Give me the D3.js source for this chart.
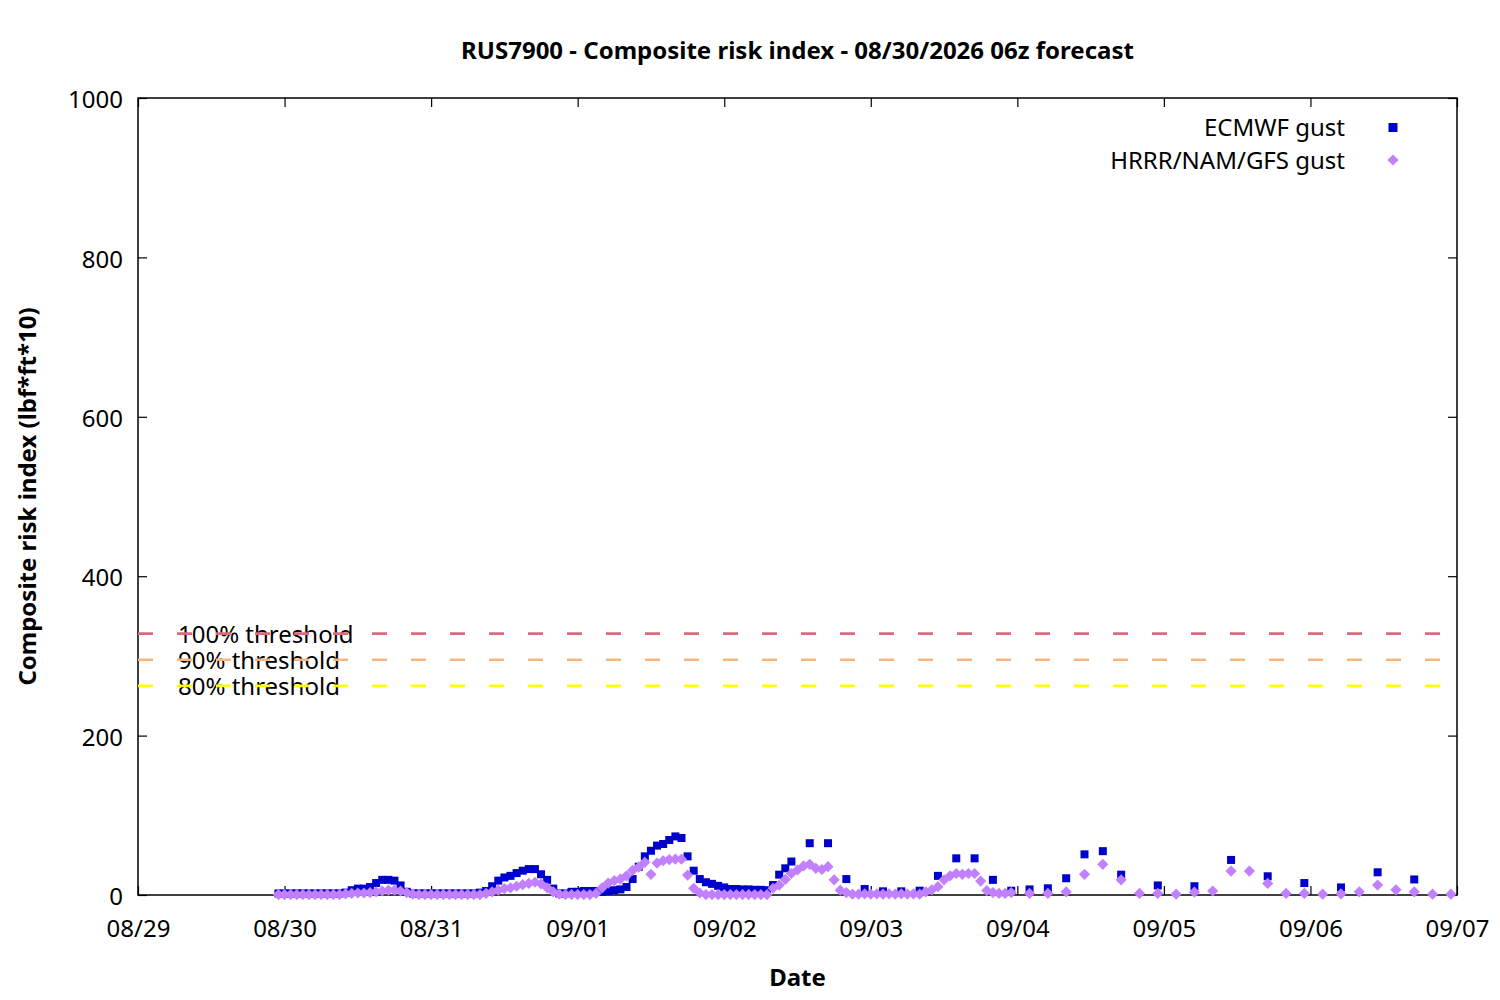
<!DOCTYPE html>
<html>
<head>
<meta charset="utf-8">
<script src="https://cdn.jsdelivr.net/npm/d3@7"></script>
<style>
  body { margin: 0; background: #fff; }
  text { font-family: "Noto Sans", sans-serif; fill: #000; }
</style>
</head>
<body>
<div id="chart"></div>
<script>
// forecast init 08/30 06z, shown in local time (UTC-7) -> first step 08/29 23:00
const initLocal = Date.UTC(2026, 7, 29, 23);

// output schedule of each source (lead hours)
const ecmwfLead = [...d3.range(0, 85), ...d3.range(87, 139, 3), ...d3.range(144, 187, 6)];
const hrrrLead = [...d3.range(0, 121), ...d3.range(123, 193, 3)];

// ECMWF gust composite index
const ecmwfValues = [
  2, 2, 2, 2, 2, 2, 2, 2, 2, 2, 2,
  3, 6, 8, 8, 10, 15, 19, 19, 18, 12, 4,
  2, 2, 2, 2, 2, 2, 2, 2, 2, 2, 2, 3,
  5, 11, 18, 22, 24, 27.5, 30.5, 32.5, 32.5, 26, 19, 8, 2, 2, 4, 4,
  5, 5, 5, 4, 5, 6, 7, 10, 20, 35.5, 48.5, 55.5, 62, 64, 69, 73.5, 71.5,
  48.5, 30.5, 20, 16, 14, 11.5, 9.5, 7.5, 7.5, 7, 7, 6.5, 6.5, 6,
  12.5, 25.5, 33.5, 42,
  65, 65, 20, 7.5, 4.6, 4.6, 5.4, 24, 46, 46, 19, 5.4, 7, 8.4, 21, 51, 55, 25.5,
  12, 11, 44, 23.5, 15, 9.5, 28.5, 19.5
];

// HRRR/NAM/GFS gust composite index
const hrrrValues = [
  0.5, 0.5, 0.5, 0.5, 0.5, 0.5, 0.5, 0.5, 0.5, 0.5, 0.5,
  1.5, 2, 2.5, 2.5, 3, 4, 5, 6, 6, 5, 3,
  1, 0.5, 0.5, 0.5, 0.5, 0.5, 0.5, 0.5, 0.5, 0.5, 0.5, 0.5,
  2, 4, 6, 8, 9, 11, 13, 14.5, 16, 14, 9, 4, 1, 0.5, 0.5, 0.5, 0.5, 0.5,
  2, 9, 15, 18, 20, 24, 31, 35, 41, 26, 40, 43, 44.5, 45, 45, 25, 8.5, 2.5,
  0.5, 0.5, 0.5, 0.5, 0.5, 0.5, 0.5, 0.5, 0.5, 0.5, 0.5,
  8.5, 12.5, 19.5, 27, 31.5, 36.5, 38.5, 33.5, 32, 35.5, 19, 6, 3, 1,
  1, 1.5, 1, 1.5, 1, 1.5, 1, 1.5, 1, 1.5, 1,
  4, 6.5, 10.5, 19, 24, 27, 26, 27, 27, 17.5, 5.5, 3, 2, 2, 3,
  2, 2, 4, 26, 38.5, 19, 2, 2, 1, 3.5, 5, 30, 30, 14.5, 2, 2, 1, 1.5, 4, 12.5, 6.5, 4, 1, 1
];

const thresholdNames = ['100% threshold', '90% threshold', '80% threshold'];
const thresholdValues = [328, 295.2, 262.4];
const thresholdColors = ['#db6b7c', '#f8b57c', '#ffff00'];

const seriesNames = ['ECMWF gust', 'HRRR/NAM/GFS gust'];
const seriesColors = ['#0000cc', '#c080ff'];

const yTicks = [0, 200, 400, 600, 800, 1000];

const toRows = (lead, vals) => lead.map((h, i) => ({ date: new Date(initLocal + h * 3600e3), value: vals[i] }));
const ecmwf = toRows(ecmwfLead, ecmwfValues);
const hrrr = toRows(hrrrLead, hrrrValues);

const fontSize = 24;
const margin = { top: 98, right: 43, bottom: 105, left: 138 };
const width = 1500 - margin.left - margin.right;
const height = 1000 - margin.top - margin.bottom;

const svg = d3.select('#chart').append('svg')
  .attr('width', 1500)
  .attr('height', 1000);

const g = svg.append('g').attr('transform', `translate(${margin.left},${margin.top})`);

const x = d3.scaleUtc()
  .domain([new Date(Date.UTC(2026, 7, 29)), new Date(Date.UTC(2026, 8, 7))])
  .range([0, width]);
const y = d3.scaleLinear().domain([0, 1000]).range([height, 0]);

const xTickVals = d3.utcDay.range(x.domain()[0], d3.utcHour.offset(x.domain()[1], 1));
const fmt = d3.utcFormat('%m/%d');

// axes: ticks point inward, mirrored on top/right like gnuplot
const tickLen = 9;
const xAxis = g.append('g').attr('transform', `translate(0,${height})`)
  .call(d3.axisBottom(x).tickValues(xTickVals).tickFormat(fmt).tickSizeInner(-tickLen).tickSizeOuter(0).tickPadding(25));
const xAxisTop = g.append('g')
  .call(d3.axisTop(x).tickValues(xTickVals).tickFormat('').tickSizeInner(-tickLen).tickSizeOuter(0));
const yAxis = g.append('g')
  .call(d3.axisLeft(y).tickValues(yTicks).tickFormat(d3.format('d')).tickSizeInner(-tickLen).tickSizeOuter(0).tickPadding(15));
const yAxisRight = g.append('g').attr('transform', `translate(${width},0)`)
  .call(d3.axisRight(y).tickValues(yTicks).tickFormat('').tickSizeInner(-tickLen).tickSizeOuter(0));

[xAxis, xAxisTop, yAxis, yAxisRight].forEach(a => {
  a.select('.domain').remove();
  a.selectAll('line').attr('stroke', '#000').attr('stroke-width', 1.2);
  a.selectAll('text').attr('font-size', fontSize).attr('font-family', '"Noto Sans", sans-serif').attr('fill', '#000');
});
yAxis.selectAll('text').attr('dy', '0.4em');

g.append('rect')
  .attr('width', width).attr('height', height)
  .attr('fill', 'none').attr('stroke', '#000').attr('stroke-width', 1.5);

// threshold labels sit under the dashed lines
g.selectAll('.thr-label').data(thresholdValues).enter().append('text')
  .attr('class', 'thr-label')
  .attr('x', 40)
  .attr('y', d => y(d))
  .attr('dy', '0.38em')
  .attr('font-size', fontSize)
  .text((d, i) => thresholdNames[i]);

g.selectAll('.thr-line').data(thresholdValues).enter().append('line')
  .attr('class', 'thr-line')
  .attr('x1', 0).attr('x2', width)
  .attr('y1', d => y(d)).attr('y2', d => y(d))
  .attr('stroke', (d, i) => thresholdColors[i])
  .attr('stroke-width', 2.6)
  .attr('stroke-dasharray', '15,24');

// ECMWF squares
const sq = 8;
g.selectAll('.ecmwf').data(ecmwf).enter().append('rect')
  .attr('class', 'ecmwf')
  .attr('x', d => x(d.date) - sq / 2)
  .attr('y', d => y(d.value) - sq / 2)
  .attr('width', sq).attr('height', sq)
  .attr('fill', seriesColors[0]);

// HRRR/NAM/GFS diamonds
const r = 5.6;
const diamond = `M0,${-r}L${r},0L0,${r}L${-r},0Z`;
g.selectAll('.hrrr').data(hrrr).enter().append('path')
  .attr('class', 'hrrr')
  .attr('d', diamond)
  .attr('transform', d => `translate(${x(d.date)},${y(d.value)})`)
  .attr('fill', seriesColors[1]);

// legend
const legend = svg.append('g');
const legendY = [128, 161];
legend.selectAll('text').data(seriesNames).enter().append('text')
  .attr('x', 1345)
  .attr('y', (d, i) => legendY[i])
  .attr('dy', '0.35em')
  .attr('text-anchor', 'end')
  .attr('font-size', fontSize)
  .text(d => d);
legend.append('rect')
  .attr('x', 1393 - 4.5).attr('y', legendY[0] - 5)
  .attr('width', 9).attr('height', 9)
  .attr('fill', seriesColors[0]);
legend.append('path')
  .attr('d', diamond)
  .attr('transform', `translate(1393,${legendY[1] - 1})`)
  .attr('fill', seriesColors[1]);

// titles
svg.append('text')
  .attr('x', margin.left + width / 2).attr('y', 51)
  .attr('dy', '0.35em')
  .attr('text-anchor', 'middle')
  .attr('font-size', fontSize).attr('font-weight', 'bold')
  .text('RUS7900 - Composite risk index - 08/30/2026 06z forecast');

svg.append('text')
  .attr('x', margin.left + width / 2).attr('y', 978)
  .attr('dy', '0.35em')
  .attr('text-anchor', 'middle')
  .attr('font-size', fontSize).attr('font-weight', 'bold')
  .text('Date');

svg.append('text')
  .attr('transform', `translate(28,${margin.top + height / 2}) rotate(-90)`)
  .attr('dy', '0.35em')
  .attr('text-anchor', 'middle')
  .attr('font-size', fontSize).attr('font-weight', 'bold')
  .text('Composite risk index (lbf*ft*10)');
</script>
</body>
</html>
